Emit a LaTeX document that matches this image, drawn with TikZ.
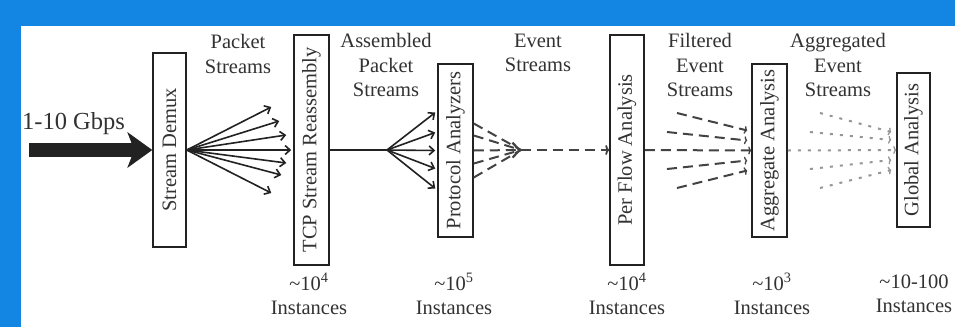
\documentclass[tikz,border=0pt]{standalone}
\usepackage{fontspec}
\setmainfont{Liberation Serif}
\usetikzlibrary{arrows.meta,calc}
\definecolor{frameblue}{RGB}{18,134,226}
\definecolor{ink}{RGB}{34,34,34}
\definecolor{txt}{RGB}{50,50,50}
\definecolor{dotgray}{RGB}{150,150,150}
\newcommand\lblfont{\fontsize{20.5}{24.5}\selectfont}
\begin{document}
\begin{tikzpicture}[x=1pt,y=-1pt,
  box/.style={draw=ink, line width=1.5pt, fill=white, inner sep=0pt, text=txt, font=\lblfont},
  lbl/.style={text=txt, font=\lblfont, align=center, inner sep=0pt},
  fan/.style={draw=ink, line width=1.6pt, -{Straight Barb[length=5pt,width=9pt,line width=1.6pt]}},
  dashln/.style={draw=ink!85, line width=2pt, dash pattern=on 10pt off 6pt},
  dotln/.style={draw=dotgray, line width=2pt, dash pattern=on 3pt off 7pt},
  smalltip/.style={-{To[length=3pt,width=8pt,line width=1.3pt]}}
]
\useasboundingbox (0,0) rectangle (955,327);
\fill[frameblue] (0,0) rectangle (955,327);
\fill[white] (21,26) rectangle (955,327);

% boxes
\node[box, minimum width=33pt, minimum height=194pt] (demux) at (169.5,150) {\rotatebox{90}{Stream Demux}};
\node[box, minimum width=35pt, minimum height=230pt] (tcp) at (311.5,150) {\rotatebox{90}{TCP Stream Reassembly}};
\node[box, minimum width=35pt, minimum height=173pt] (proto) at (455.5,150.5) {\rotatebox{90}{Protocol Analyzers}};
\node[box, minimum width=34pt, minimum height=230pt] (perflow) at (627,150) {\rotatebox{90}{Per Flow Analysis}};
\node[box, minimum width=35pt, minimum height=173pt] (aggr) at (769.5,150.5) {\rotatebox{90}{Aggregate Analysis}};
\node[box, minimum width=33pt, minimum height=154pt] (global) at (913.5,150) {\rotatebox{90}{Global Analysis}};

% input
\node[text=txt, font=\fontsize{24.5}{28}\selectfont, inner sep=0pt, anchor=west] (rate) at (22,124) {1-10 Gbps};
\coordinate (in) at (29,150);
\draw[ink, line width=14pt, -{Stealth[length=25pt,width=36pt,inset=7pt,line width=0pt]}] (in) -- (demux.west);

% packet streams fan
\foreach \dy/\dx in {43/-22, 29/-14, 15/-7, 0/-2, -13/-7, -25/-12, -43/-22}
  \draw[fan] (demux.east) -- ([xshift=\dx pt, yshift=\dy pt]tcp.west);

% assembled packet streams
\coordinate (split) at (387,150);
\draw[ink, line width=1.6pt] (tcp.east) -- (split);
\foreach \dy in {38,18,0,-18,-38}
  \draw[fan] (split) -- ([xshift=-2pt, yshift=\dy pt]proto.west);

% event streams
\coordinate (merge) at (521,150);
\foreach \dy in {27,15,-13,-27}
  \draw[dashln] ([yshift=\dy pt]proto.east) -- (merge);
\draw[dashln, -{Straight Barb[length=7pt,width=15pt,line width=2.2pt]}] (proto.east) -- (merge);
\draw[dashln, -{To[length=4pt,width=10pt,line width=1.8pt]}] (merge) -- (perflow.west);

% filtered event streams
\coordinate (f1) at (677,113);
\coordinate (f2) at (667,132);
\coordinate (f4) at (667,169);
\coordinate (f5) at (677,188);
\draw[dashln, smalltip] (f1) -- ([xshift=-4pt, yshift=20pt]aggr.west);
\draw[dashln, smalltip] (f2) -- ([xshift=-4pt, yshift=10pt]aggr.west);
\draw[dashln, smalltip] (perflow.east) -- (aggr.west);
\draw[dashln, smalltip] (f4) -- ([xshift=-4pt, yshift=-10pt]aggr.west);
\draw[dashln, smalltip] (f5) -- ([xshift=-4pt, yshift=-20pt]aggr.west);

% aggregated event streams
\coordinate (g1) at (820,113);
\coordinate (g2) at (810,132);
\coordinate (g4) at (810,169);
\coordinate (g5) at (820,188);
\draw[dotln, smalltip] (g1) -- ([xshift=-5pt, yshift=18pt]global.west);
\draw[dotln, smalltip] (g2) -- ([xshift=-5pt, yshift=10pt]global.west);
\draw[dotln, smalltip] (aggr.east) -- (global.west);
\draw[dotln, smalltip] (g4) -- ([xshift=-5pt, yshift=-10pt]global.west);
\draw[dotln, smalltip] (g5) -- ([xshift=-5pt, yshift=-20pt]global.west);

% top labels
\node[lbl] (lpacket) at (238,54) {Packet\\Streams};
\node[lbl] (lassembled) at (386,65) {Assembled\\Packet\\Streams};
\node[lbl] (levent) at (538,53) {Event\\Streams};
\node[lbl] (lfiltered) at (700,65) {Filtered\\Event\\Streams};
\node[lbl] (laggregated) at (838,65) {Aggregated\\Event\\Streams};

% bottom labels
\node[lbl] (n1) at (309,294) {\textasciitilde10\textsuperscript{4}\\Instances};
\node[lbl] (n2) at (454,294) {\textasciitilde10\textsuperscript{5}\\Instances};
\node[lbl] (n3) at (627,294) {\textasciitilde10\textsuperscript{4}\\Instances};
\node[lbl] (n4) at (772,294) {\textasciitilde10\textsuperscript{3}\\Instances};
\node[lbl] (n5) at (914,294) {\textasciitilde10-100\\Instances};
\end{tikzpicture}
\end{document}
